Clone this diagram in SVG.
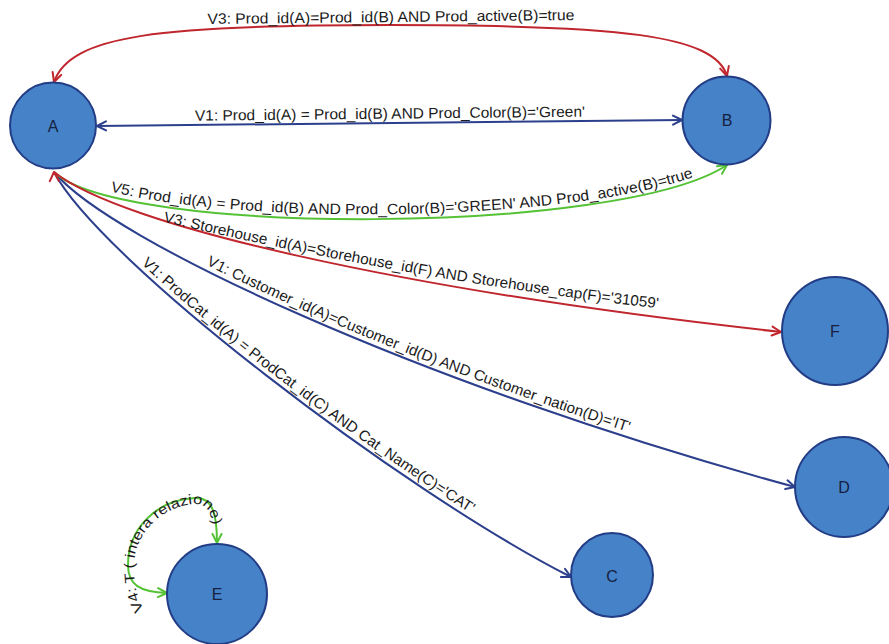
<svg xmlns="http://www.w3.org/2000/svg" width="889" height="644" viewBox="0 0 889 644">
<style>
.node ellipse{fill:#4682c8;stroke:#223d85;stroke-width:2}
.node text{font-family:"Liberation Sans",Arial,sans-serif;font-size:16px;fill:#15213f;text-anchor:middle;dominant-baseline:central}
.edge{fill:none;stroke-width:2}
.red{stroke:#c0262d}
.blue{stroke:#2c3f8c}
.green{stroke:#55c236}
.lbl{font-family:"Liberation Sans",Arial,sans-serif;font-size:15px;fill:#1a1a1a}
.lbl2{font-family:"Liberation Sans",Arial,sans-serif;font-size:14px;fill:#1a1a1a}
.ah{fill:none;stroke-width:2;stroke-linecap:round;stroke-linejoin:round}
</style>
<defs>
<marker id="arRed" viewBox="0 0 12 12" refX="11" refY="6" markerWidth="12" markerHeight="12" markerUnits="userSpaceOnUse" orient="auto-start-reverse"><path class="ah" d="M2,1.5 L11,6 L2,10.5" stroke="#c0262d"/></marker>
<marker id="arRedUp" viewBox="0 0 12 12" refX="11" refY="6" markerWidth="12" markerHeight="12" markerUnits="userSpaceOnUse" orient="268"><path class="ah" d="M2,1.5 L11,6 L2,10.5" stroke="#c0262d"/></marker>
<marker id="arBlue" viewBox="0 0 12 12" refX="11" refY="6" markerWidth="12" markerHeight="12" markerUnits="userSpaceOnUse" orient="auto-start-reverse"><path class="ah" d="M2,1.5 L11,6 L2,10.5" stroke="#2c3f8c"/></marker>
<marker id="arGreen" viewBox="0 0 12 12" refX="11" refY="6" markerWidth="12" markerHeight="12" markerUnits="userSpaceOnUse" orient="auto-start-reverse"><path class="ah" d="M2,1.5 L11,6 L2,10.5" stroke="#55c236"/></marker>
<path id="p5" d="M 54,167 C 120,231 620,231 728,161"/>
<path id="p3s" d="M 160,221 Q 420,282 665,309"/>
<path id="p1c" d="M 56,167 C 112,235 422,380 797,482"/>
<path id="p1p" d="M 57,168 C 103,256 403,486 574,573"/>
<path id="p4" d="M 145,612 C 136,596 134,585 134,565 C 134,536 160,506 195,504 C 210,504 214,518 214,545"/>
</defs>
<rect width="889" height="644" fill="#ffffff"/>
<g id="connectors">
<path id="e-cat" class="edge blue" d="M 54,172 C 100,260 400,490 571,577" marker-end="url(#arBlue)"/>
<path id="e-cust" class="edge blue" d="M 54,172 C 110,240 420,385 795,487" marker-end="url(#arBlue)"/>
<path id="e-v5" class="edge green" d="M 54,172 C 120,236 620,236 727,165" marker-end="url(#arGreen)"/>
<path id="e-store" class="edge red" d="M 54,172 C 120,225 400,290 781,332" marker-start="url(#arRedUp)" marker-end="url(#arRed)"/>
<path id="e-top" class="edge red" d="M 54,82 C 70,35 160,25 390,25 C 620,25 715,35 727,76" marker-start="url(#arRed)" marker-end="url(#arRed)"/>
<path id="e-ab" class="edge blue" d="M 97,126 L 682,120" marker-start="url(#arBlue)" marker-end="url(#arBlue)"/>
<path id="e-loop" class="edge green" d="M 167,593 C 140,592 128,585 128,565 C 128,530 155,500 195,498 C 213,497 217,515 217,543" marker-start="url(#arGreen)" marker-end="url(#arGreen)"/>
</g>
<g id="labels">
<text class="lbl" x="391" y="22" text-anchor="middle" textLength="367" lengthAdjust="spacingAndGlyphs" transform="rotate(-0.6 391 22)">V3: Prod_id(A)=Prod_id(B) AND Prod_active(B)=true</text>
<text class="lbl" x="390" y="118.7" text-anchor="middle" textLength="390" lengthAdjust="spacingAndGlyphs" transform="rotate(-0.6 390 118.7)">V1: Prod_id(A) = Prod_id(B) AND Prod_Color(B)='Green'</text>
<text class="lbl"><textPath href="#p5" startOffset="62" textLength="588" lengthAdjust="spacingAndGlyphs">V5: Prod_id(A) = Prod_id(B) AND Prod_Color(B)='GREEN' AND Prod_active(B)=true</textPath></text>
<text class="lbl"><textPath href="#p3s" startOffset="3" textLength="503" lengthAdjust="spacingAndGlyphs">V3: Storehouse_id(A)=Storehouse_id(F) AND Storehouse_cap(F)='31059'</textPath></text>
<text class="lbl"><textPath href="#p1c" startOffset="180" textLength="455" lengthAdjust="spacingAndGlyphs">V1: Customer_id(A)=Customer_id(D) AND Customer_nation(D)='IT'</textPath></text>
<text class="lbl"><textPath href="#p1p" startOffset="128" textLength="414" lengthAdjust="spacingAndGlyphs">V1: ProdCat_id(A) = ProdCat_id(C) AND Cat_Name(C)='CAT'</textPath></text>
<text class="lbl2"><textPath href="#p4" startOffset="2" textLength="172" lengthAdjust="spacingAndGlyphs">V4: T ( intera relazione)</textPath></text>
</g>
<g id="node-A" class="node"><ellipse cx="53" cy="125.5" rx="43" ry="43"/><text x="53" y="126">A</text></g>
<g id="node-B" class="node"><ellipse cx="726.5" cy="120.5" rx="44" ry="44"/><text x="727" y="120">B</text></g>
<g id="node-F" class="node"><ellipse cx="835" cy="331" rx="53" ry="54"/><text x="835" y="331">F</text></g>
<g id="node-D" class="node"><ellipse cx="844" cy="487" rx="49" ry="50"/><text x="844" y="487">D</text></g>
<g id="node-C" class="node"><ellipse cx="612" cy="575" rx="41" ry="42"/><text x="612" y="576">C</text></g>
<g id="node-E" class="node"><ellipse cx="217" cy="594" rx="50" ry="50"/><text x="217" y="594">E</text></g>
</svg>
